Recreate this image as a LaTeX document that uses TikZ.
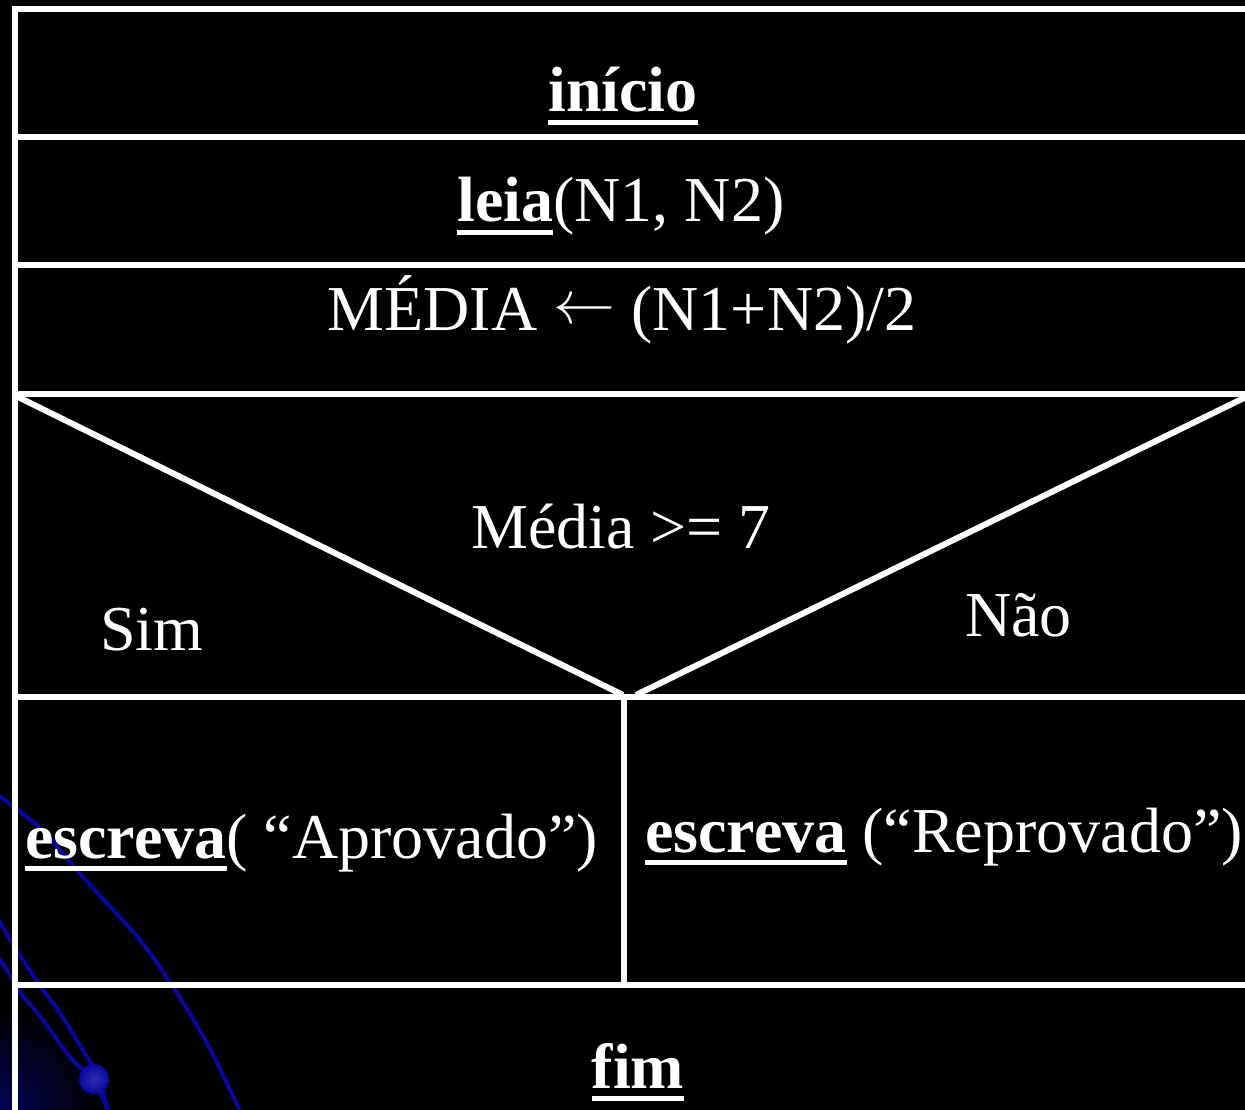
\documentclass[tikz,border=0pt]{standalone}
\usepackage{fontspec}
\setmainfont{Liberation Serif}
\definecolor{navy}{RGB}{8,8,160}
\newcommand\myul[1]{\sbox0{#1}\rlap{\rule[-13pt]{\wd0}{5pt}}\usebox0}
\newcommand\bigleft{\raisebox{6pt}{\fontsize{10pt}{12pt}\selectfont\scalebox{6.2}{$\leftarrow$}}}
\tikzset{
  frame/.style={draw=white, line width=6pt},
  txt/.style={text=white, inner sep=0pt, anchor=base, font=\fontsize{64pt}{70pt}\selectfont},
  deco/.style={draw=navy, line width=4pt},
}
\begin{document}
\begin{tikzpicture}[x=1pt,y=-1pt]
\fill[black] (0,0) rectangle (1245,1110);
\useasboundingbox (0,0) rectangle (1245,1110);
% background decoration
\begin{scope}
\clip (0,0) rectangle (1245,1110);
\shade[inner color=navy!55!black, outer color=black] (0,1110) circle (100);
\draw[deco] plot[smooth] coordinates {(-5,793) (40,828) (83,877) (140,940) (173,987) (207,1043) (242,1115)};
\draw[deco] plot[smooth] coordinates {(-5,913) (12,943) (23,960) (43,990) (60,1013) (87,1057) (100,1080) (108,1115)};
\draw[deco] plot[smooth] coordinates {(-5,952) (12,978) (18,990) (43,1020) (70,1057) (93,1080) (111,1115)};
\shade[inner color=navy!85!white, outer color=navy] (94,1079) circle (15);
\end{scope}
% table frame
\draw[frame] (14.5,1115) -- (14.5,9) -- (1250,9) -- (1250,1115);
\draw[frame] (12,137) -- (1250,137);
\draw[frame] (12,265) -- (1250,265);
\draw[frame] (12,394) -- (1250,394);
\draw[frame] (12,697) -- (1250,697);
\draw[frame] (12,985) -- (1250,985);
\draw[frame] (624,697) -- (624,985);
\draw[frame, line cap=butt] (18,397) -- (623,695);
\draw[frame, line cap=butt] (636,695) -- (1246,397);
% texts
\node[txt] (inicio) at (623,112) {\bfseries\myul{início}};
\node[txt] (leia) at (621,222) {\myul{\bfseries leia}(N1, N2)};
\node[txt] (media) at (622,330) {MÉDIA \bigleft{} (N1+N2)/2};
\node[txt] (cond) at (621,548) {Média >= 7};
\node[txt, anchor=base west] (sim) at (100,650) {Sim};
\node[txt, anchor=base west] (nao) at (965,636) {Não};
\node[txt, anchor=base west] (aprov) at (25,858) {\myul{\bfseries escreva}( “Aprovado”)};
\node[txt, anchor=base west] (reprov) at (645,852) {\myul{\bfseries escreva} (“Reprovado”)};
\node[txt] (fim) at (638,1088) {\bfseries\myul{fim}};
\end{tikzpicture}
\end{document}
